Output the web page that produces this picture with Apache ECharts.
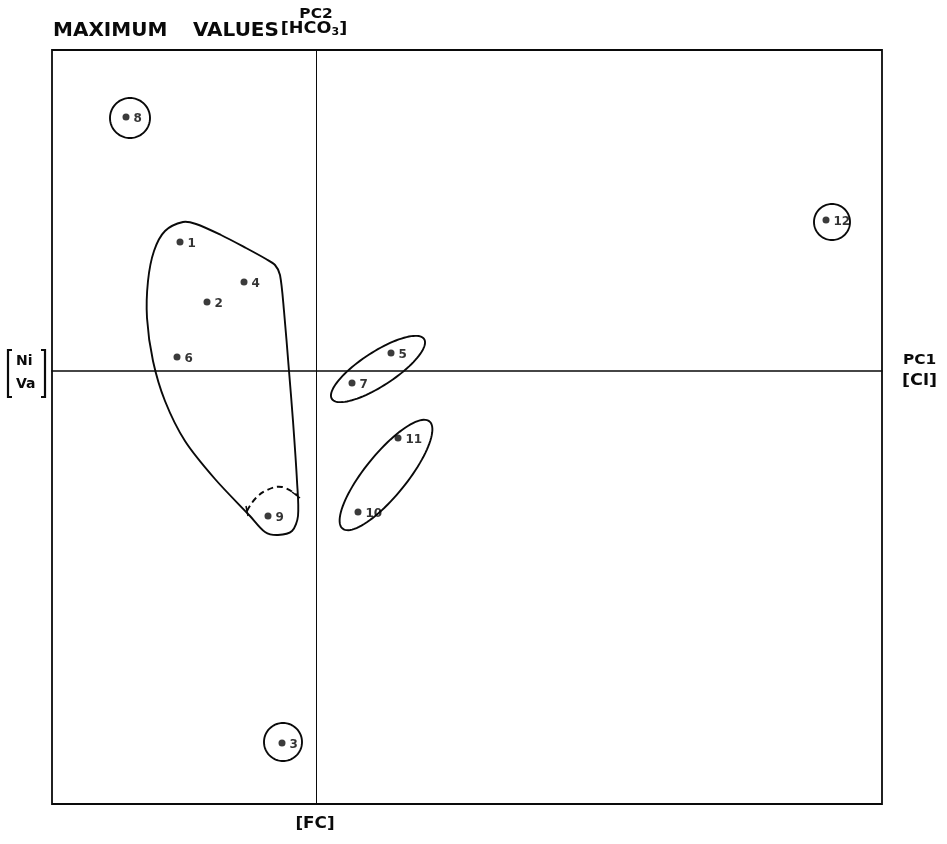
<!DOCTYPE html>
<html>
<head>
<meta charset="utf-8">
<script src="https://cdn.jsdelivr.net/npm/echarts@6/dist/echarts.min.js"></script>
<style>
  html, body { margin: 0; padding: 0; background: #fff; }
  #chart { width: 947px; height: 844px; }
</style>
</head>
<body>
<div id="chart"></div>
<script>
// Site scores on the first two principal components (maximum values)
const siteLabels = ['1', '2', '3', '4', '5', '6', '7', '8', '9', '10', '11', '12'];
const pc1Scores  = [-1.36, -1.09, -0.34, -0.72, 0.75, -1.39, 0.36, -1.90, -0.48, 0.42, 0.82, 5.10];
const pc2Scores  = [ 1.29,  0.69, -3.72,  0.89, 0.18,  0.14, -0.12, 2.54, -1.45, -1.41, -0.67, 1.51];

// Axis extents
const pc1Range = [-2.64, 5.66];
const pc2Range = [-4.33, 3.21];

// Outline enclosing sites 1, 2, 4, 6 and 9
const groupOutlineX = [-1.33, -1.20, -0.95, -0.70, -0.50, -0.41, -0.36, -0.32, -0.27, -0.23, -0.19, -0.18, -0.24, -0.38, -0.51, -0.66, -1.01, -1.31, -1.51, -1.63, -1.69, -1.68, -1.62, -1.51];
const groupOutlineY = [ 1.49,  1.47,  1.36,  1.23,  1.12,  1.06,  0.96,  0.60,  0.00, -0.50, -1.10, -1.45, -1.60, -1.64, -1.61, -1.45, -1.08, -0.70, -0.30,  0.10,  0.53,  0.90,  1.20,  1.40];

// Dashed arc separating site 9 inside the outline
const dashArcX = [-0.69, -0.61, -0.49, -0.34, -0.19];
const dashArcY = [-1.40, -1.28, -1.19, -1.16, -1.24];

// Rings: centre, semi-axes and tilt (degrees)
const ringCentreX = [-1.86, 5.16, -0.33, 0.62, 0.70];
const ringCentreY = [ 2.53, 1.49, -3.71, 0.02, -1.04];
const ringSemiA   = [ 0.20, 0.18,  0.19, 0.55, 0.69];
const ringSemiB   = [ 0.20, 0.18,  0.19, 0.17, 0.21];
const ringTilt    = [ 0,    0,     0,    33,   51];

const chart = echarts.init(document.getElementById('chart'), null, { renderer: 'canvas' });

const scatterData = siteLabels.map((name, i) => ({ name, value: [pc1Scores[i], pc2Scores[i]] }));
const ringData = ringCentreX.map((cx, i) => [cx, ringCentreY[i], ringSemiA[i], ringSemiB[i], ringTilt[i]]);

const ink = '#0a0a0a';

function ringItem(params, api) {
  const cx = api.value(0), cy = api.value(1), a = api.value(2), b = api.value(3);
  const t = api.value(4) * Math.PI / 180;
  const pts = [];
  for (let k = 0; k < 96; k++) {
    const p = 2 * Math.PI * k / 96;
    const x = cx + a * Math.cos(p) * Math.cos(t) - b * Math.sin(p) * Math.sin(t);
    const y = cy + a * Math.cos(p) * Math.sin(t) + b * Math.sin(p) * Math.cos(t);
    pts.push(api.coord([x, y]));
  }
  return {
    type: 'polygon',
    shape: { points: pts },
    style: { fill: 'none', stroke: ink, lineWidth: 1.9 }
  };
}

function outlineItem(params, api) {
  const pts = groupOutlineX.map((x, i) => api.coord([x, groupOutlineY[i]]));
  const arc = dashArcX.map((x, i) => api.coord([x, dashArcY[i]]));
  const first = arc[0], last = arc[arc.length - 1];
  return {
    type: 'group',
    children: [
      { type: 'polygon', shape: { points: pts, smooth: 0.3 },
        style: { fill: 'none', stroke: ink, lineWidth: 1.9 } },
      { type: 'polyline', shape: { points: arc, smooth: 0.4 },
        style: { fill: 'none', stroke: ink, lineWidth: 1.9, lineDash: [6, 4] } },
      { type: 'line', shape: { x1: first[0] - 1, y1: first[1] - 5, x2: first[0] + 1, y2: first[1] + 5 },
        style: { stroke: ink, lineWidth: 1.5 } },
      { type: 'line', shape: { x1: last[0] - 5, y1: last[1] - 3, x2: last[0] + 3, y2: last[1] + 3 },
        style: { stroke: ink, lineWidth: 1.5 } }
    ]
  };
}

const option = {
  backgroundColor: '#fff',
  animation: false,
  grid: {
    left: 52, top: 50, right: 65, bottom: 40,
    show: true, borderColor: ink, borderWidth: 1.8, backgroundColor: 'transparent'
  },
  xAxis: {
    type: 'value', min: pc1Range[0], max: pc1Range[1],
    splitLine: { show: false }, axisTick: { show: false }, axisLabel: { show: false },
    axisLine: { show: true, onZero: true, lineStyle: { color: ink, width: 1.5 } }
  },
  yAxis: {
    type: 'value', min: pc2Range[0], max: pc2Range[1],
    splitLine: { show: false }, axisTick: { show: false }, axisLabel: { show: false },
    axisLine: { show: true, onZero: true, lineStyle: { color: ink, width: 1 } }
  },
  series: [
    {
      type: 'custom', renderItem: outlineItem, data: [[0, 0]], silent: true, z: 3
    },
    {
      type: 'custom', renderItem: ringItem, data: ringData, silent: true, z: 3
    },
    {
      type: 'scatter', data: scatterData, symbol: 'circle', symbolSize: 7,
      itemStyle: { color: ink }, z: 5,
      label: {
        show: true, position: 'right', distance: 4, offset: [0, 2], formatter: '{b}',
        color: '#000', fontFamily: 'DejaVu Sans', fontWeight: 'bold', fontSize: 12
      }
    }
  ],
  graphic: [
    { type: 'text', x: 53, y: 21,
      style: { text: 'MAXIMUM', font: 'bold 20px "DejaVu Sans"', fill: ink } },
    { type: 'text', x: 193, y: 21,
      style: { text: 'VALUES', font: 'bold 20px "DejaVu Sans"', fill: ink } },
    { type: 'text', x: 316, y: 7, scaleX: 1.1,
      style: { text: 'PC2', font: 'bold 14px "DejaVu Sans"', fill: ink, align: 'center' } },
    { type: 'text', x: 314, y: 20, scaleX: 1.1,
      style: { text: '[HCO{s|3}]', font: 'bold 16px "DejaVu Sans"', fill: ink, align: 'center',
        rich: { s: { font: 'bold 10px "DejaVu Sans"', verticalAlign: 'bottom', padding: [7, 0, 0, 0] } } } },
    { type: 'text', x: 903, y: 353, scaleX: 1.1,
      style: { text: 'PC1', font: 'bold 14px "DejaVu Sans"', fill: ink } },
    { type: 'text', x: 902, y: 373, scaleX: 1.1,
      style: { text: '[Cl]', font: 'bold 16px "DejaVu Sans"', fill: ink } },
    { type: 'text', x: 16, y: 350,
      style: { text: 'Ni\nVa', font: 'bold 14px "DejaVu Sans"', lineHeight: 23, fill: ink } },
    { type: 'polyline', shape: { points: [[12, 350], [8, 350], [8, 397], [12, 397]] },
      style: { stroke: ink, lineWidth: 2.2, fill: 'none' } },
    { type: 'polyline', shape: { points: [[41, 350], [45, 350], [45, 397], [41, 397]] },
      style: { stroke: ink, lineWidth: 2.2, fill: 'none' } },
    { type: 'text', x: 315, y: 816, scaleX: 1.05,
      style: { text: '[FC]', font: 'bold 16px "DejaVu Sans"', fill: ink, align: 'center' } }
  ]
};

chart.setOption(option);
</script>
</body>
</html>
